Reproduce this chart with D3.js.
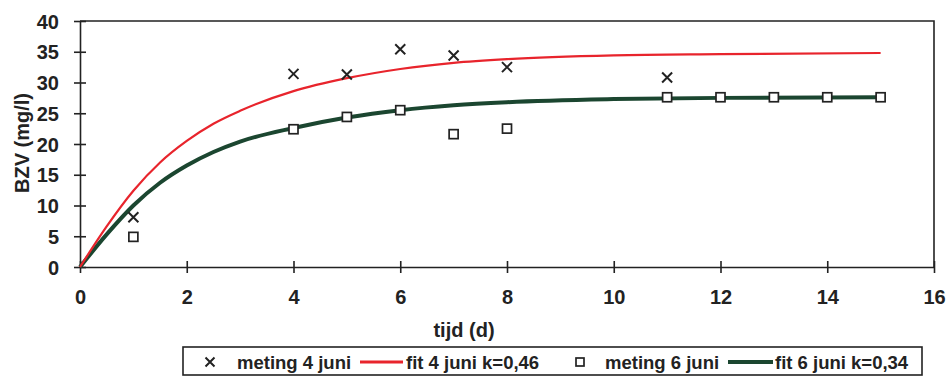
<!DOCTYPE html>
<html>
<head>
<meta charset="utf-8">
<script src="https://cdn.jsdelivr.net/npm/d3@7"></script>
<style>
  body { margin: 0; background: #fff; }
  text { font-family: "Liberation Sans", Arial, sans-serif; fill: #222; }
</style>
</head>
<body>
<div id="chart"></div>
<script>
// measurements
const days4 = [1, 4, 5, 6, 7, 8, 11];
const meting4 = [8.1, 31.4, 31.3, 35.4, 34.4, 32.5, 30.8];
const days6 = [1, 4, 5, 6, 7, 8, 11, 12, 13, 14, 15];
const meting6 = [4.9, 22.4, 24.4, 25.5, 21.6, 22.5, 27.6, 27.6, 27.6, 27.6, 27.6];

// fitted curves
const tFit = [0, 0.5, 1, 1.5, 2, 2.5, 3, 4, 5, 6, 7, 8, 10, 12, 15];
const fit4 = [0, 6.6, 12.4, 17.0, 20.5, 23.3, 25.4, 28.6, 30.7, 32.2, 33.2, 33.8, 34.4, 34.6, 34.8];
const fit6 = [0, 5.3, 10.0, 13.7, 16.5, 18.7, 20.4, 22.6, 24.3, 25.5, 26.3, 26.8, 27.3, 27.5, 27.6];

const xTicks = [0, 2, 4, 6, 8, 10, 12, 14, 16];
const yTicks = [0, 5, 10, 15, 20, 25, 30, 35, 40];

const W = 950, H = 378;
const red = "#e8242c", green = "#1b4630", ink = "#222";

const svg = d3.select("#chart").append("svg")
    .attr("width", W)
    .attr("height", H);

const x = d3.scaleLinear().domain([0, 16]).range([80, 934]);
const y = d3.scaleLinear().domain([0, 40]).range([267, 21]);

// frame (top + right)
svg.append("path")
    .attr("d", `M${x(0)},${y(40)}H${x(16)}V${y(0)}`)
    .attr("fill", "none")
    .attr("stroke", ink)
    .attr("stroke-width", 1.6);

const xAxis = svg.append("g")
    .attr("transform", `translate(0,${y(0)})`)
    .call(d3.axisBottom(x).tickValues(xTicks).tickSizeInner(6).tickSizeOuter(0).tickPadding(17));
xAxis.selectAll(".tick line").attr("y1", -6);

const yAxis = svg.append("g")
    .attr("transform", `translate(${x(0)},0)`)
    .call(d3.axisLeft(y).tickValues(yTicks).tickSizeInner(6).tickSizeOuter(0).tickPadding(15));
yAxis.selectAll(".tick line").attr("x1", 6);

svg.selectAll(".domain, .tick line")
    .attr("stroke", ink)
    .attr("stroke-width", 1.6);
svg.selectAll(".tick text")
    .attr("font-size", 20)
    .attr("font-weight", "bold")
    .attr("fill", ink);
xAxis.selectAll(".tick text").attr("dy", "0.71em");
yAxis.selectAll(".tick text").attr("dy", "0.36em");

// axis titles
svg.append("text")
    .attr("transform", `translate(29,143) rotate(-90)`)
    .attr("text-anchor", "middle")
    .attr("font-size", 20)
    .attr("font-weight", "bold")
    .text("BZV (mg/l)");

svg.append("text")
    .attr("x", 464)
    .attr("y", 337)
    .attr("text-anchor", "middle")
    .attr("font-size", 20)
    .attr("font-weight", "bold")
    .text("tijd (d)");

// fit lines
const line = d3.line()
    .x(d => x(d[0]))
    .y(d => y(d[1]))
    .curve(d3.curveMonotoneX);

svg.append("path")
    .datum(tFit.map((t, i) => [t, fit6[i]]))
    .attr("fill", "none")
    .attr("stroke", green)
    .attr("stroke-width", 4)
    .attr("d", line);

svg.append("path")
    .datum(tFit.map((t, i) => [t, fit4[i]]))
    .attr("fill", "none")
    .attr("stroke", red)
    .attr("stroke-width", 2.2)
    .attr("d", line);

// markers
function cross(sel, r) {
    sel.append("path")
        .attr("d", `M${-r},${-r}L${r},${r}M${-r},${r}L${r},${-r}`)
        .attr("stroke", ink)
        .attr("stroke-width", 2);
}
function square(sel, s) {
    sel.append("rect")
        .attr("x", -s / 2).attr("y", -s / 2)
        .attr("width", s).attr("height", s)
        .attr("fill", "#fff")
        .attr("stroke", ink)
        .attr("stroke-width", 1.7);
}

svg.selectAll(".m6")
    .data(days6.map((t, i) => [t, meting6[i]]))
    .enter().append("g")
    .attr("class", "m6")
    .attr("transform", d => `translate(${x(d[0])},${y(d[1])})`)
    .call(square, 9);

svg.selectAll(".m4")
    .data(days4.map((t, i) => [t, meting4[i]]))
    .enter().append("g")
    .attr("class", "m4")
    .attr("transform", d => `translate(${x(d[0])},${y(d[1])})`)
    .call(cross, 5);

// legend
const leg = svg.append("g");
leg.append("rect")
    .attr("x", 183).attr("y", 347)
    .attr("width", 739).attr("height", 28)
    .attr("fill", "#fff")
    .attr("stroke", ink)
    .attr("stroke-width", 1.6);

const legY = 362;
leg.append("g").attr("transform", `translate(210,${legY})`).call(cross, 4.5);
leg.append("line").attr("x1", 360).attr("x2", 403).attr("y1", legY).attr("y2", legY)
    .attr("stroke", red).attr("stroke-width", 3);
leg.append("g").attr("transform", `translate(580,${legY})`).call(square, 8);
leg.append("line").attr("x1", 728).attr("x2", 773).attr("y1", legY).attr("y2", legY)
    .attr("stroke", green).attr("stroke-width", 4);

const legLabels = [
    { x: 237, text: "meting 4 juni" },
    { x: 406, text: "fit 4 juni k=0,46" },
    { x: 605, text: "meting 6 juni" },
    { x: 775, text: "fit 6 juni k=0,34" }
];
leg.selectAll(".leg-label")
    .data(legLabels)
    .enter().append("text")
    .attr("class", "leg-label")
    .attr("x", d => d.x)
    .attr("y", legY)
    .attr("dy", "0.36em")
    .attr("font-size", 18.5)
    .attr("font-weight", "bold")
    .text(d => d.text);
</script>
</body>
</html>
